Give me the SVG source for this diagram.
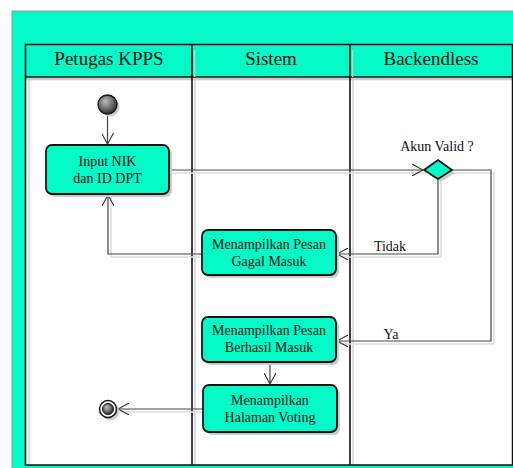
<svg xmlns="http://www.w3.org/2000/svg" width="513" height="468" viewBox="0 0 513 468">
<defs>
<style>
.hdr{font-family:"Liberation Serif","Times New Roman",serif;font-size:19px;fill:#111;text-anchor:middle}
.lbl{font-family:"Liberation Serif","Times New Roman",serif;font-size:14px;fill:#111;text-anchor:middle}
.edge{fill:none;stroke:#444;stroke-width:1.2}
.eshadow{fill:none;stroke:#ddd;stroke-width:1.5}
.node{fill:#03F9C6;stroke:#111;stroke-width:1.8}
.shadow{fill:#ccc}
</style>
<marker id="arr" viewBox="0 0 12 12" refX="11" refY="6" markerWidth="12" markerHeight="12" markerUnits="userSpaceOnUse" orient="auto">
<path d="M0,0 L11,6 L0,12" fill="none" stroke="#333" stroke-width="1.1"/>
</marker>
<radialGradient id="ball" cx="40%" cy="35%" r="65%">
<stop offset="0" stop-color="#bbb"/>
<stop offset="1" stop-color="#333"/>
</radialGradient>
</defs>
<rect x="0" y="0" width="513" height="468" fill="#fff"/>
<g id="frame">
<rect x="12" y="11" width="503" height="460" fill="#03F9C6" stroke="#999" stroke-width="1"/>
<rect x="25.5" y="77" width="487" height="388" fill="#fff"/>
<line x1="29" y1="80" x2="29" y2="465" stroke="#ddd" stroke-width="2"/>
<line x1="195" y1="80" x2="195" y2="465" stroke="#ddd" stroke-width="2"/>
<line x1="353" y1="80" x2="353" y2="465" stroke="#ddd" stroke-width="2"/>
<line x1="25.5" y1="79" x2="512" y2="79" stroke="#ccc" stroke-width="2.5"/>
<rect x="25.5" y="44.5" width="487" height="420.5" fill="none" stroke="#111" stroke-width="1.5"/>
<line x1="25.5" y1="77" x2="512" y2="77" stroke="#111" stroke-width="1.3"/>
<line x1="192" y1="44.5" x2="192" y2="465" stroke="#111" stroke-width="1.6"/>
<line x1="350" y1="44.5" x2="350" y2="465" stroke="#111" stroke-width="1.6"/>
<line x1="194.5" y1="50" x2="194.5" y2="77" stroke="#ccc" stroke-width="1.5"/>
<line x1="352.5" y1="50" x2="352.5" y2="77" stroke="#ccc" stroke-width="1.5"/>
<text class="hdr" x="109" y="65">Petugas KPPS</text>
<text class="hdr" x="271" y="65">Sistem</text>
<text class="hdr" x="431" y="65">Backendless</text>
</g>
<g id="connectors">
<polyline class="eshadow" points="171,173 426,173"/>
<polyline class="eshadow" points="441,182 441,257 338,257"/>
<polyline class="eshadow" points="454,173 494,173 494,344 338,344"/>
<polyline class="eshadow" points="200,257 111,257 111,197"/>
<polyline class="eshadow" points="201,412 120,412"/>
<line class="edge" x1="107.5" y1="115" x2="107.5" y2="144" marker-end="url(#arr)"/>
<line class="edge" x1="169" y1="170" x2="423" y2="170" marker-end="url(#arr)"/>
<polyline class="edge" points="438,179 438,254 337,254" marker-end="url(#arr)"/>
<polyline class="edge" points="452,170 491,170 491,341 337,341" marker-end="url(#arr)"/>
<polyline class="edge" points="202,254 108,254 108,195" marker-end="url(#arr)"/>
<line class="edge" x1="270" y1="362" x2="270" y2="384" marker-end="url(#arr)"/>
<line class="edge" x1="203" y1="409" x2="118" y2="409" marker-end="url(#arr)"/>
<text class="lbl" x="390" y="251">Tidak</text>
<text class="lbl" x="391" y="339">Ya</text>
<text class="lbl" x="437" y="151">Akun Valid ?</text>
</g>
<g id="start">
<circle cx="110" cy="107" r="9.5" fill="#ccc"/>
<circle cx="107.5" cy="104.5" r="9.5" fill="url(#ball)" stroke="#111" stroke-width="1.3"/>
</g>
<g id="input">
<rect class="shadow" x="49" y="148" width="123" height="49" rx="6"/>
<rect class="node" x="46" y="145" width="123" height="49" rx="6"/>
<text class="lbl" x="107.5" y="166">Input NIK</text>
<text class="lbl" x="107.5" y="183">dan ID DPT</text>
</g>
<g id="decision">
<path d="M427,173 L441,163 L455,173 L441,182 Z" fill="#ccc"/>
<path class="node" d="M424,170 L438,160 L452,170 L438,179 Z"/>
</g>
<g id="gagal">
<rect class="shadow" x="205" y="233" width="134" height="45" rx="6"/>
<rect class="node" x="202" y="230" width="134" height="45" rx="6"/>
<text class="lbl" x="269" y="249">Menampilkan Pesan</text>
<text class="lbl" x="269" y="266">Gagal Masuk</text>
</g>
<g id="berhasil">
<rect class="shadow" x="205" y="320" width="134" height="45" rx="6"/>
<rect class="node" x="202" y="317" width="134" height="45" rx="6"/>
<text class="lbl" x="269" y="335">Menampilkan Pesan</text>
<text class="lbl" x="269" y="352">Berhasil Masuk</text>
</g>
<g id="halaman">
<rect class="shadow" x="206" y="388" width="134" height="47" rx="6"/>
<rect class="node" x="203" y="385" width="134" height="47" rx="6"/>
<text class="lbl" x="270" y="405">Menampilkan</text>
<text class="lbl" x="270" y="422">Halaman Voting</text>
</g>
<g id="end">
<circle cx="110.5" cy="411.5" r="9" fill="#ccc"/>
<circle cx="108" cy="409" r="8.5" fill="#fff" stroke="#111" stroke-width="1.5"/>
<circle cx="108" cy="409" r="5.5" fill="url(#ball)" stroke="#111" stroke-width="1"/>
</g>
</svg>
